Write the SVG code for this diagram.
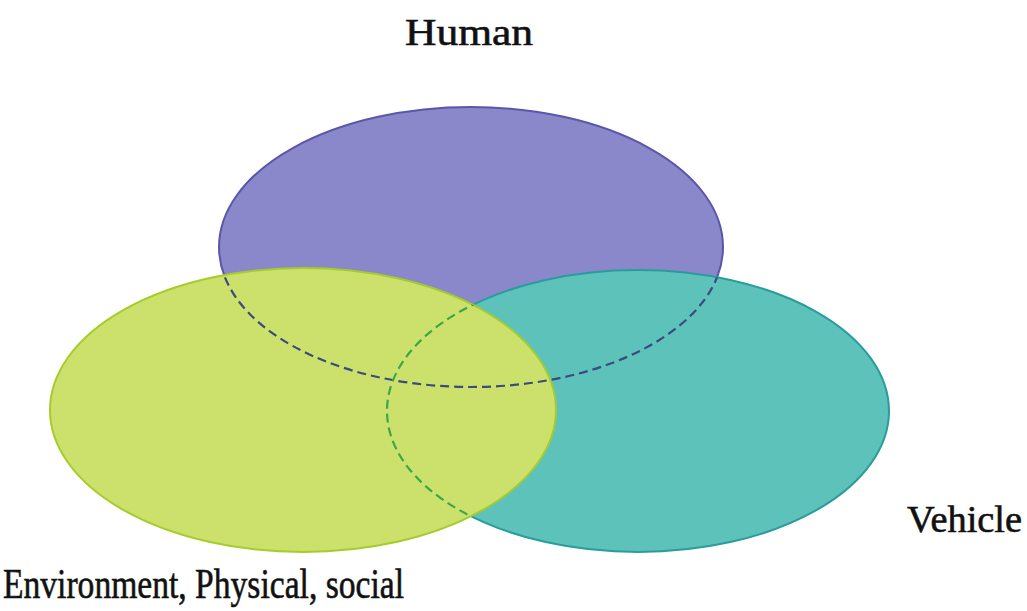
<svg xmlns="http://www.w3.org/2000/svg" width="1027" height="611" viewBox="0 0 1027 611">
<style>
.lbl{font-family:"Liberation Serif","Times New Roman",serif;fill:#111;stroke:#111;stroke-width:0.6;}
.hid{fill:none;stroke-width:2.2;stroke-dasharray:9 5;}
</style>
<defs>
<clipPath id="clipGT">
<ellipse cx="303" cy="410" rx="253" ry="142"/>
<ellipse cx="638" cy="411" rx="251" ry="141"/>
</clipPath>
<clipPath id="clipG">
<ellipse cx="303" cy="410" rx="253" ry="142"/>
</clipPath>
</defs>
<rect width="1027" height="611" fill="#fff"/>
<g id="human">
<ellipse cx="471" cy="247" rx="252" ry="140" fill="#8a87cb" stroke="#5a57a8" stroke-width="2"/>
<text class="lbl" x="469" y="45" font-size="38" text-anchor="middle" textLength="128" lengthAdjust="spacingAndGlyphs">Human</text>
</g>
<g id="vehicle">
<ellipse cx="638" cy="411" rx="251" ry="141" fill="#5dc2ba" stroke="#2a9c9c" stroke-width="2"/>
<text class="lbl" x="907" y="532" font-size="37" textLength="115" lengthAdjust="spacingAndGlyphs">Vehicle</text>
</g>
<g id="environment">
<ellipse cx="303" cy="410" rx="253" ry="142" fill="#cbe16c" stroke="#a6cc2c" stroke-width="2"/>
<text class="lbl" x="3" y="598" font-size="43" textLength="401" lengthAdjust="spacingAndGlyphs">Environment, Physical, social</text>
</g>
<g id="connectors">
<ellipse class="hid" cx="471" cy="247" rx="252" ry="140" stroke="#3c4a7e" clip-path="url(#clipGT)"/>
<ellipse class="hid" cx="638" cy="411" rx="251" ry="141" stroke="#3aa848" clip-path="url(#clipG)"/>
</g>
</svg>
